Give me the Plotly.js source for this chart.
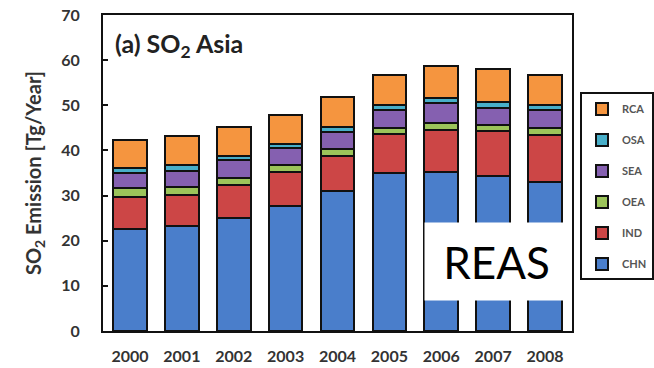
<!DOCTYPE html>
<html>
<head>
<meta charset="utf-8">
<script src="https://cdn.plot.ly/plotly-3.0.1.min.js"></script>
<style>html,body{margin:0;padding:0;background:#fff;}#chart{width:654px;height:368px;}</style>
</head>
<body>
<div id="chart"></div>
<script>
const years = ['2000','2001','2002','2003','2004','2005','2006','2007','2008'];
const CHN = [22.7, 23.2, 25.0, 27.7, 31.1, 35.1, 35.3, 34.3, 33.1];
const IND = [6.9, 7.0, 7.3, 7.5, 7.6, 8.5, 9.3, 9.9, 10.3];
const OEA = [2.0, 1.7, 1.7, 1.6, 1.6, 1.4, 1.5, 1.5, 1.5];
const SEA = [3.5, 3.6, 3.8, 3.7, 3.8, 3.9, 4.3, 3.8, 4.0];
const OSA = [0.9, 1.2, 1.0, 1.0, 1.1, 1.2, 1.2, 1.3, 1.2];
const RCA = [6.3, 6.4, 6.4, 6.3, 6.6, 6.6, 7.0, 7.2, 6.6];
const seriesNames = ['CHN','IND','OEA','SEA','OSA','RCA'];
const seriesData = [CHN, IND, OEA, SEA, OSA, RCA];
const seriesColors = ['#4a7ecb','#cc4646','#9cc45a','#8560b0','#48afc9','#f5953f'];

const traces = seriesNames.map((n, i) => ({
  type: 'bar',
  name: n,
  x: years,
  y: seriesData[i],
  legendgroup: n,
  legendrank: seriesNames.length - i,
  marker: {color: seriesColors[i], line: {color: '#111', width: 2}}
}));

const tickFont = {family: 'Lato, "Open Sans", sans-serif', size: 16, color: '#333', weight: 'bold'};

const layout = {
  width: 654, height: 368,
  margin: {l: 103, r: 82, t: 15, b: 37, autoexpand: false},
  paper_bgcolor: '#fff', plot_bgcolor: '#fff',
  barmode: 'stack',
  bargap: 0.35,
  showlegend: true,
  legend: {
    x: 1.017, xanchor: 'left', y: 0.755, yanchor: 'top',
    traceorder: 'grouped',
    tracegroupgap: 12,
    bordercolor: '#111', borderwidth: 2, bgcolor: '#fff',
    font: {family: 'Lato, sans-serif', size: 11, color: '#555', weight: 'bold'},
    itemwidth: 30
  },
  xaxis: {
    type: 'category',
    range: [-0.52, 8.52],
    showline: true, linecolor: '#111', linewidth: 2, mirror: true,
    ticks: '', tickfont: tickFont, ticklabelstandoff: 10,
    showgrid: false, zeroline: false
  },
  yaxis: {
    range: [0, 70], dtick: 10,
    showline: true, linecolor: '#111', linewidth: 2, mirror: true,
    ticks: 'inside', ticklen: 5, tickwidth: 2, tickcolor: '#111',
    tickfont: tickFont, ticklabelstandoff: 18,
    showgrid: false, zeroline: false,
    title: {text: 'SO<sub>2</sub> Emission [Tg/Year]', standoff: 14,
      font: {family: 'Lato, sans-serif', size: 20, color: '#333', weight: 'bold'}}
  },
  annotations: [
    {text: '(a) SO<sub>2</sub> Asia', xref: 'paper', yref: 'paper', x: 0.022, y: 0.965,
     xanchor: 'left', yanchor: 'top', showarrow: false,
     font: {family: 'Lato, sans-serif', size: 25, color: '#222', weight: 'bold'}},
    {text: 'REAS', xref: 'paper', yref: 'paper', x: 0.9936, y: 0.345,
     xanchor: 'right', yanchor: 'top', showarrow: false,
     width: 143, height: 77, bgcolor: '#fff', borderpad: 0,
     font: {family: 'Lato, "Open Sans", sans-serif', size: 44, color: '#000'}}
  ]
};

Plotly.newPlot('chart', traces, layout, {displayModeBar: false, staticPlot: true});
</script>
</body>
</html>
